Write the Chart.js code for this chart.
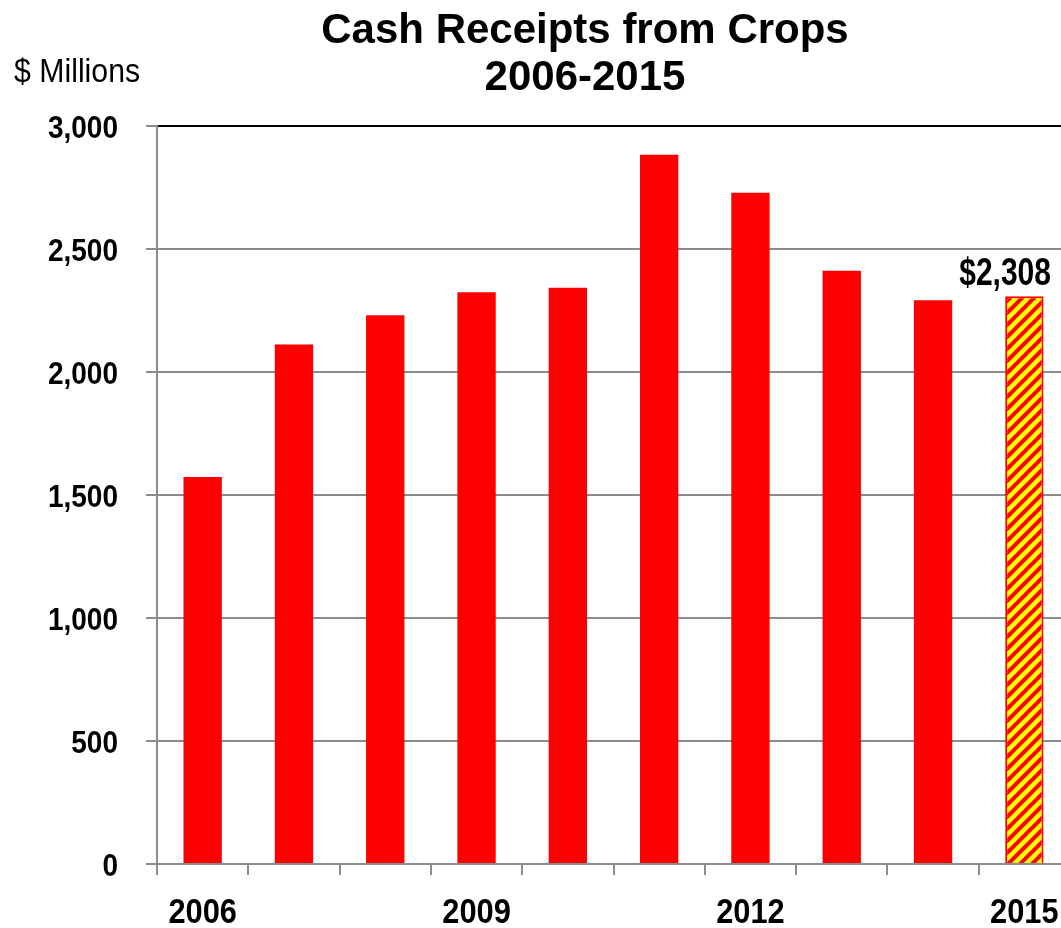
<!DOCTYPE html>
<html>
<head>
<meta charset="utf-8">
<script src="https://cdn.jsdelivr.net/npm/chart.js@4.4.1/dist/chart.umd.min.js"></script>
<style>
  html, body { margin: 0; padding: 0; background: #fff; overflow: hidden; }
  #wrap { position: absolute; left: 0; top: 0; width: 1080px; height: 928px; }
</style>
</head>
<body>
<div id="wrap"><canvas id="cropsChart"></canvas></div>
<script>
// data
const years = ['2006', '2007', '2008', '2009', '2010', '2011', '2012', '2013', '2014', '2015'];
const receipts = [1573, 2112, 2231, 2324, 2342, 2883, 2729, 2412, 2292, 2308];
const shownYears = ['2006', '2009', '2012', '2015'];
const titleLines = ['Cash Receipts from Crops', '2006-2015'];
const unitLabel = '$ Millions';

const FONT = "'Liberation Sans', Arial, sans-serif";
const GRAY = '#8c8c8c';

// no narrow font installed, so squeeze the text sideways
function narrowText(c, txt, x, y, align, font, sx) {
    c.save();
    c.font = font;
    c.textAlign = align;
    c.textBaseline = 'alphabetic';
    c.translate(x, y);
    c.scale(sx, 1);
    c.fillText(txt, 0, 0);
    c.restore();
}

// yellow / red diagonal hatch for the last year
function makeHatch() {
    const n = 12;
    const c = document.createElement('canvas');
    c.width = n; c.height = n;
    const g = c.getContext('2d');
    g.fillStyle = '#ffff00';
    g.fillRect(0, 0, n, n);
    g.strokeStyle = '#ff0000';
    g.lineWidth = 4;
    g.beginPath();
    for (let k = -n; k <= n; k += n) {
        g.moveTo(k - 2, n + 2);
        g.lineTo(k + n + 2, -2);
    }
    g.stroke();
    return g.createPattern(c, 'repeat');
}

const ctx = document.getElementById('cropsChart').getContext('2d');
const hatch = makeHatch();
const last = years.length - 1;

// titles, tick labels and the value label on the last bar
const textPlugin = {
    id: 'textPlugin',
    afterDraw(chart) {
        const c = chart.ctx;
        c.save();
        c.fillStyle = '#000';
        c.textAlign = 'center';
        c.textBaseline = 'alphabetic';
        c.font = 'bold 42px ' + FONT;
        c.fillText(titleLines[0], 585, 43);
        c.fillText(titleLines[1], 585, 90);

        narrowText(c, unitLabel, 14, 82, 'left', '34px ' + FONT, 0.89);

        // y tick labels
        const ys = chart.scales.y;
        ys.ticks.forEach((t, i) => {
            const py = ys.getPixelForTick(i);
            narrowText(c, t.value.toLocaleString('en-US'), 118, py + 11.5, 'right', 'bold 32px ' + FONT, 0.875);
        });

        // x tick labels
        const xs = chart.scales.x;
        xs.ticks.forEach((t, i) => {
            const y = years[t.value];
            if (!shownYears.includes(y)) return;
            narrowText(c, y, xs.getPixelForTick(i), 923, 'center', 'bold 35px ' + FONT, 0.88);
        });

        // value label, kept inside the visible picture
        const bar = chart.getDatasetMeta(0).data[last];
        const txt = '$' + receipts[last].toLocaleString('en-US');
        const font = 'bold 38px ' + FONT;
        c.font = font;
        const w = c.measureText(txt).width * 0.79;
        const x = Math.min(bar.x, window.innerWidth - w / 2 - 10);
        narrowText(c, txt, x, bar.y - 11, 'center', font, 0.79);
        c.restore();
    }
};

new Chart(ctx, {
    type: 'bar',
    data: {
        labels: years,
        datasets: [{
            data: receipts,
            backgroundColor: years.map((y, i) => i === last ? hatch : '#ff0000'),
            borderColor: '#ff0000',
            borderWidth: years.map((y, i) => i === last ? 2 : 0),
            categoryPercentage: 1,
            barPercentage: 0.42
        }]
    },
    options: {
        responsive: true,
        maintainAspectRatio: false,
        animation: false,
        layout: { padding: { top: 126, right: 10, left: 0, bottom: 0 } },
        plugins: {
            legend: { display: false },
            tooltip: { enabled: false }
        },
        scales: {
            x: {
                offset: true,
                grid: {
                    offset: true,
                    drawOnChartArea: false,
                    color: GRAY,
                    lineWidth: 2,
                    tickLength: 11
                },
                border: { color: GRAY, width: 2 },
                ticks: {
                    autoSkip: false,
                    maxRotation: 0,
                    color: 'rgba(0,0,0,0)',
                    font: { family: FONT, size: 35, weight: 'bold' }
                },
                afterFit: s => { s.height = 64; }
            },
            y: {
                min: 0,
                max: 3000,
                ticks: {
                    stepSize: 500,
                    color: 'rgba(0,0,0,0)',
                    font: { family: FONT, size: 32, weight: 'bold' }
                },
                grid: {
                    color: c => c.tick && c.tick.value === 3000 ? '#000' : GRAY,
                    tickColor: GRAY,
                    lineWidth: 2,
                    tickLength: 11
                },
                border: { color: GRAY, width: 2 },
                afterFit: s => { s.width = 157; }
            }
        }
    },
    plugins: [textPlugin]
});
</script>
</body>
</html>
